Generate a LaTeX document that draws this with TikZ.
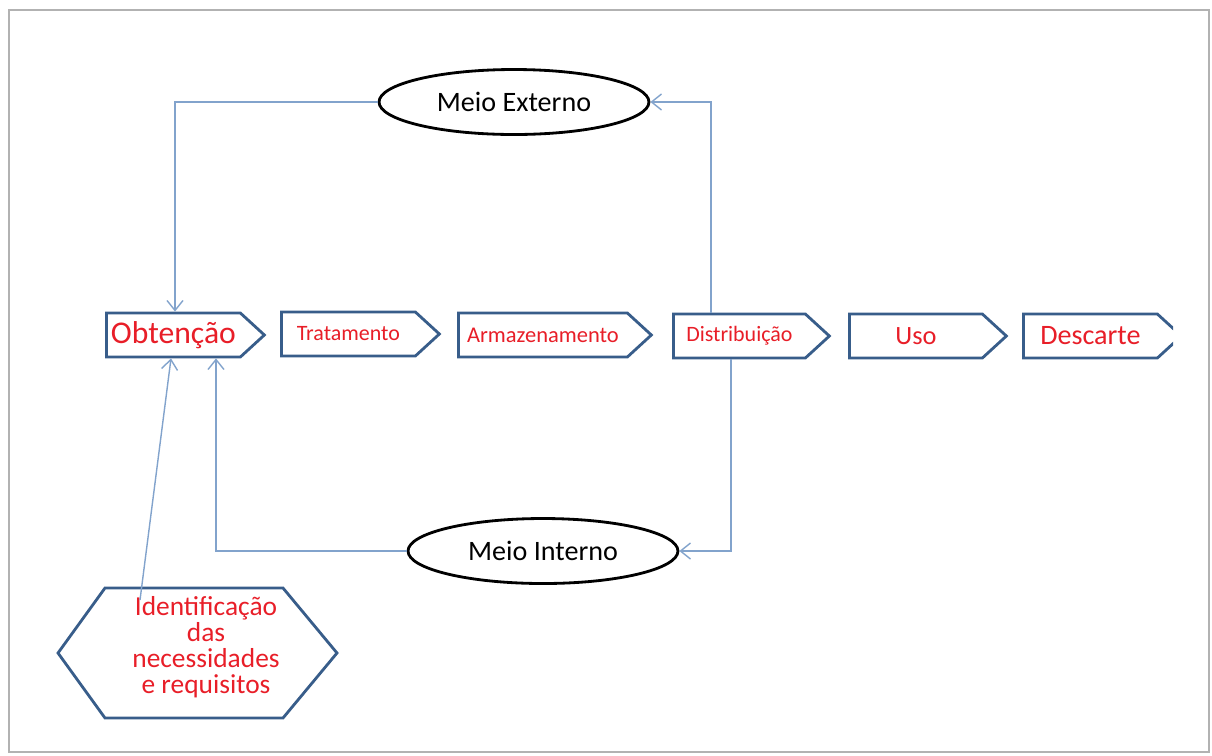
\documentclass[tikz,border=0pt]{standalone}
\usepackage{fontspec}
\setmainfont{Carlito}
\usetikzlibrary{arrows.meta,shapes.geometric,shapes.symbols}
\definecolor{boxblue}{RGB}{56,93,138}
\definecolor{linkblue}{RGB}{130,163,204}
\definecolor{txtred}{RGB}{232,30,40}

\begin{document}
\begin{tikzpicture}[x=0.02cm, y=-0.02cm,
  stage/.style={signal, signal to=east, signal pointer angle=85, draw=boxblue, line width=1.6pt,
    fill=white, text=txtred, minimum height=0.88cm, inner sep=0pt, anchor=west},
  milieu/.style={ellipse, draw=black, line width=1.6pt, minimum width=5.4cm, minimum height=1.3cm,
    font=\fontsize{16}{18}\selectfont},
  link/.style={draw=linkblue, line width=0.8pt, -{Straight Barb[length=2mm,width=3.2mm]}}]
	\useasboundingbox (0,0) rectangle (1212,755);
	\draw[color=gray!60,line width=1pt] (9,10) rectangle (1209,752);
	% stages of the cycle
	\node[stage, minimum width=3.16cm, font=\fontsize{18}{20}\selectfont] (obt) at (105,335) {Obtenção};
	\node[stage, minimum width=3.16cm, font=\fontsize{12.5}{14}\selectfont] (trat) at (280,334) {Tratamento};
	\node[stage, minimum width=3.86cm, font=\fontsize{12.8}{14}\selectfont] (arm) at (457,335) {Armazenamento};
	\node[stage, minimum width=3.12cm, font=\fontsize{12.5}{14}\selectfont] (dist) at (672,336) {Distribuição};
	\node[stage, minimum width=3.14cm, font=\fontsize{15}{17}\selectfont] (uso) at (848,336) {Uso};
	\begin{scope}
	  \clip (0,0) rectangle (1173,755);
	  \node[stage, minimum width=3.16cm, font=\fontsize{16}{18}\selectfont] (desc) at (1022,336) {Descarte};
	\end{scope}
	% environments
	\node[milieu] (ext) at (514,102) {Meio Externo};
	\node[milieu] (int) at (543,551) {Meio Interno};
	% needs
	\draw[color=boxblue,line width=1.6pt] (58,653) -- (105,588) -- (283,588) -- (337,653) -- (283,718) -- (105,718) -- cycle;
	\node[text=txtred, align=center, font=\fontsize{15.6}{14.8}\selectfont] (need) at (206,647)
	  {Identificação\\das\\necessidades\\e requisitos};
	\coordinate (needtop) at (140,600);
	% links
	\draw[link] (ext.west) -| (obt.north -| 175,0);
	\draw[link] (dist.north -| 711,0) |- (ext.east);
	\draw[link] (dist.south -| 731,0) |- (int.east);
	\draw[link] (int.west) -| (obt.south -| 216,0);
	\draw[link] (needtop) -- (obt.south -| 171,0);
\end{tikzpicture}
\end{document}
